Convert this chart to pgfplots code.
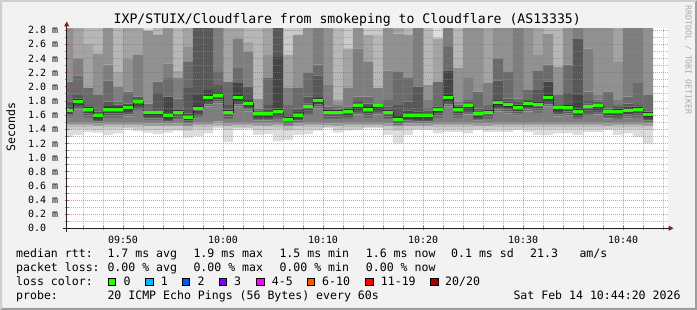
\documentclass[border=0pt]{standalone}
\usepackage{pgfplots}
\pgfplotsset{compat=1.18}
\usepackage{pgfplotstable}
\usepackage{fontspec}
\setmainfont{DejaVu Sans Mono}

\definecolor{bgc}{RGB}{242,242,242}
\definecolor{shadea}{RGB}{207,207,207}
\definecolor{shadeb}{RGB}{158,158,158}
\definecolor{gridc}{RGB}{143,143,143}
\definecolor{mgridc}{RGB}{222,79,79}
\definecolor{arrowc}{RGB}{128,31,31}
\definecolor{axisc}{RGB}{31,31,31}
\definecolor{wmc}{RGB}{170,170,170}
\definecolor{s1}{RGB}{221,221,221}
\definecolor{s2}{RGB}{202,202,202}
\definecolor{s3}{RGB}{183,183,183}
\definecolor{s4}{RGB}{164,164,164}
\definecolor{s5}{RGB}{145,145,145}
\definecolor{s6}{RGB}{126,126,126}
\definecolor{s7}{RGB}{107,107,107}
\definecolor{s8}{RGB}{88,88,88}
\definecolor{s9}{RGB}{69,69,69}
\definecolor{s10}{RGB}{50,50,50}
\definecolor{lc0}{RGB}{38,255,0}
\definecolor{lc1}{RGB}{0,184,255}
\definecolor{lc2}{RGB}{0,89,255}
\definecolor{lc3}{RGB}{126,0,255}
\definecolor{lc4}{RGB}{255,0,255}
\definecolor{lc5}{RGB}{255,85,0}
\definecolor{lc6}{RGB}{255,0,0}
\definecolor{lc7}{RGB}{161,0,0}

% x = minutes after 09:00 (column centre), m = median RTT (ms), p1..p20 = sorted pings (ms)
\pgfplotstableread{
x m p1 p2 p3 p4 p5 p6 p7 p8 p9 p10 p11 p12 p13 p14 p15 p16 p17 p18 p19 p20
44.5 1.670 1.29 1.40 1.43 1.45 1.47 1.50 1.55 1.58 1.61 1.64 1.70 1.72 1.79 2.07 2.07 3 3 3 3 3
45.5 1.797 1.32 1.40 1.43 1.45 1.47 1.50 1.68 1.71 1.74 1.77 1.83 1.83 1.88 2.16 2.40 2.40 3 3 3 3
46.5 1.684 1.36 1.40 1.43 1.45 1.47 1.50 1.56 1.59 1.62 1.65 1.71 1.72 1.74 1.98 1.98 1.98 2.61 3 3 3
47.5 1.590 1.35 1.39 1.42 1.44 1.46 1.48 1.49 1.51 1.53 1.56 1.62 1.63 1.65 1.88 1.88 2.47 2.47 3 3 3
48.5 1.680 1.32 1.40 1.43 1.45 1.47 1.50 1.56 1.59 1.62 1.65 1.71 1.73 1.79 2.09 2.31 3 3 3 3 3
49.5 1.680 1.34 1.40 1.43 1.45 1.47 1.50 1.56 1.59 1.62 1.65 1.71 1.73 1.75 1.79 2.00 2.00 2.21 3 3 3
50.5 1.699 1.39 1.41 1.43 1.45 1.47 1.50 1.58 1.61 1.64 1.67 1.73 1.74 1.76 1.93 1.93 2.40 3 3 3 3
51.5 1.788 1.37 1.40 1.43 1.45 1.47 1.50 1.67 1.70 1.73 1.76 1.82 1.82 1.86 1.86 2.45 2.45 3 3 3 3
52.5 1.628 1.35 1.39 1.42 1.44 1.46 1.48 1.53 1.55 1.57 1.60 1.66 1.66 1.67 1.76 1.76 2.79 2.79 2.79 2.79 3
53.5 1.628 1.33 1.39 1.42 1.44 1.46 1.48 1.53 1.55 1.57 1.60 1.66 1.67 1.91 2.07 2.07 2.73 2.73 3 3 3
54.5 1.590 1.35 1.39 1.42 1.44 1.46 1.48 1.49 1.51 1.53 1.56 1.62 1.86 1.86 2.12 2.33 3 3 3 3 3
55.5 1.637 1.38 1.39 1.42 1.44 1.46 1.48 1.54 1.56 1.58 1.61 1.67 1.67 1.67 1.83 2.12 2.12 2.23 3 3 3
56.5 1.562 1.28 1.37 1.40 1.42 1.44 1.46 1.48 1.50 1.52 1.53 1.59 1.62 1.98 2.35 2.35 2.56 3 3 3 3
57.5 1.694 1.30 1.40 1.43 1.45 1.47 1.50 1.57 1.60 1.63 1.66 1.73 1.88 3 3 3 3 3 3 3 3
58.5 1.844 1.34 1.40 1.43 1.45 1.47 1.50 1.72 1.75 1.78 1.81 1.88 1.95 3 3 3 3 3 3 3 3
59.5 1.882 1.41 1.42 1.44 1.46 1.48 1.51 1.76 1.79 1.82 1.85 1.91 1.91 2.02 2.21 3 3 3 3 3 3
60.5 1.642 1.22 1.39 1.42 1.44 1.46 1.48 1.54 1.56 1.58 1.61 1.67 1.68 1.74 2.07 2.07 2.07 3 3 3 3
61.5 1.844 1.39 1.41 1.43 1.45 1.47 1.50 1.72 1.75 1.78 1.81 1.88 2.05 2.05 2.26 2.68 2.68 3 3 3 3
62.5 1.769 1.40 1.41 1.43 1.45 1.47 1.50 1.65 1.68 1.71 1.74 1.80 1.81 2.00 2.00 2.49 2.49 2.64 3 3 3
63.5 1.618 1.32 1.39 1.42 1.44 1.46 1.48 1.52 1.54 1.56 1.59 1.65 1.65 1.66 1.69 1.69 1.83 1.83 3 3 3
64.5 1.623 1.33 1.39 1.42 1.44 1.46 1.48 1.52 1.54 1.56 1.59 1.65 1.68 1.74 2.12 2.12 2.45 3 3 3 3
65.5 1.656 1.23 1.40 1.43 1.45 1.47 1.50 1.54 1.57 1.60 1.62 1.69 2.42 3 3 3 3 3 3 3 3
66.5 1.543 1.25 1.37 1.40 1.42 1.44 1.46 1.46 1.48 1.50 1.51 1.57 1.58 1.60 1.74 1.98 1.98 2.45 2.45 3 3
67.5 1.595 1.32 1.39 1.42 1.44 1.46 1.48 1.50 1.52 1.54 1.57 1.62 1.64 1.69 1.98 1.98 2.73 2.73 2.73 3 3
68.5 1.717 1.33 1.40 1.43 1.45 1.47 1.50 1.60 1.63 1.66 1.69 1.75 1.76 1.86 2.19 2.19 3 3 3 3 3
69.5 1.811 1.38 1.40 1.43 1.45 1.47 1.50 1.69 1.72 1.75 1.78 1.84 1.84 2.16 2.31 3 3 3 3 3 3
70.5 1.638 1.41 1.42 1.43 1.45 1.46 1.48 1.54 1.56 1.58 1.61 1.67 1.68 1.70 1.72 2.02 3 3 3 3 3
71.5 1.638 1.35 1.39 1.42 1.44 1.46 1.48 1.54 1.56 1.58 1.61 1.67 1.68 1.69 1.71 1.74 1.78 1.83 3 3 3
72.5 1.655 1.38 1.40 1.43 1.45 1.47 1.50 1.54 1.57 1.60 1.62 1.69 1.69 1.70 1.72 1.98 1.98 2.54 2.54 3 3
73.5 1.727 1.39 1.40 1.43 1.45 1.47 1.50 1.61 1.64 1.67 1.70 1.76 1.77 1.80 1.86 2.54 3 3 3 3 3
74.5 1.680 1.41 1.42 1.43 1.45 1.47 1.50 1.56 1.59 1.62 1.65 1.71 1.73 1.76 1.86 2.35 2.35 2.73 2.73 3 3
75.5 1.727 1.41 1.42 1.43 1.45 1.47 1.50 1.61 1.64 1.67 1.70 1.76 1.76 1.76 1.76 1.98 1.98 1.98 2.73 3 3
76.5 1.642 1.32 1.39 1.42 1.44 1.46 1.48 1.54 1.56 1.58 1.61 1.67 1.68 1.72 1.81 2.23 3 3 3 3 3
77.5 1.539 1.20 1.37 1.40 1.42 1.44 1.46 1.46 1.48 1.49 1.51 1.57 1.60 1.74 2.21 2.21 2.75 3 3 3 3
78.5 1.595 1.32 1.39 1.42 1.44 1.46 1.48 1.50 1.52 1.54 1.57 1.62 1.66 1.79 2.12 2.12 2.73 2.73 3 3 3
79.5 1.590 1.39 1.40 1.42 1.44 1.46 1.48 1.49 1.51 1.53 1.56 1.62 1.65 2.00 2.00 3 3 3 3 3 3
80.5 1.590 1.39 1.40 1.42 1.44 1.46 1.48 1.49 1.51 1.53 1.56 1.62 1.63 1.66 1.70 1.81 2.02 2.02 3 3 3
81.5 1.675 1.34 1.40 1.43 1.45 1.47 1.50 1.56 1.59 1.62 1.64 1.70 1.71 1.72 2.07 2.07 2.07 2.68 2.68 2.68 3
82.5 1.844 1.36 1.40 1.43 1.45 1.47 1.50 1.72 1.75 1.78 1.81 1.88 2.23 2.23 2.56 3 3 3 3 3 3
83.5 1.684 1.36 1.40 1.43 1.45 1.47 1.50 1.56 1.59 1.62 1.65 1.71 1.72 1.73 1.75 1.79 2.26 2.26 3 3 3
84.5 1.727 1.34 1.40 1.43 1.45 1.47 1.50 1.61 1.64 1.67 1.70 1.76 1.76 1.78 1.81 2.12 3 3 3 3 3
85.5 1.623 1.39 1.40 1.42 1.44 1.46 1.48 1.52 1.54 1.56 1.59 1.65 1.66 1.69 1.93 1.93 3 3 3 3 3
86.5 1.637 1.36 1.39 1.42 1.44 1.46 1.48 1.54 1.56 1.58 1.61 1.67 1.68 1.70 1.74 2.05 2.05 3 3 3 3
87.5 1.770 1.36 1.40 1.43 1.45 1.47 1.50 1.65 1.68 1.71 1.74 1.80 1.81 2.09 2.40 2.40 3 3 3 3 3
88.5 1.741 1.36 1.40 1.43 1.45 1.47 1.50 1.62 1.65 1.68 1.71 1.77 1.79 1.83 2.21 2.21 3 3 3 3 3
89.5 1.708 1.39 1.40 1.43 1.45 1.47 1.50 1.59 1.62 1.65 1.68 1.74 1.75 1.78 1.83 3 3 3 3 3 3
90.5 1.765 1.36 1.40 1.43 1.45 1.47 1.50 1.65 1.68 1.71 1.73 1.80 1.80 1.81 1.95 1.95 3 3 3 3 3
91.5 1.750 1.32 1.40 1.43 1.45 1.47 1.50 1.63 1.66 1.69 1.72 1.78 1.78 1.95 2.23 2.23 2.45 3 3 3 3
92.5 1.844 1.32 1.40 1.43 1.45 1.47 1.50 1.72 1.75 1.78 1.81 1.88 2.07 2.07 2.31 2.31 2.75 2.75 3 3 3
93.5 1.699 1.34 1.40 1.43 1.45 1.47 1.50 1.58 1.61 1.64 1.67 1.73 1.73 1.73 1.88 1.88 2.28 2.28 3 3 3
94.5 1.708 1.34 1.40 1.43 1.45 1.47 1.50 1.59 1.62 1.65 1.68 1.74 1.74 1.91 2.31 2.31 3 3 3 3 3
95.5 1.656 1.32 1.40 1.43 1.45 1.47 1.50 1.54 1.57 1.60 1.62 1.69 1.88 2.68 2.68 3 3 3 3 3 3
96.5 1.717 1.36 1.40 1.43 1.45 1.47 1.50 1.60 1.63 1.66 1.69 1.75 1.76 1.80 1.93 2.54 3 3 3 3 3
97.5 1.731 1.36 1.40 1.43 1.45 1.47 1.50 1.61 1.64 1.67 1.70 1.76 1.77 1.79 1.82 1.88 3 3 3 3 3
98.5 1.647 1.39 1.40 1.42 1.44 1.46 1.48 1.55 1.57 1.59 1.62 1.68 1.68 1.69 1.93 1.93 3 3 3 3 3
99.5 1.656 1.32 1.40 1.43 1.45 1.47 1.50 1.54 1.57 1.60 1.62 1.69 1.70 1.71 1.74 1.81 2.35 3 3 3 3
100.5 1.670 1.34 1.40 1.43 1.45 1.47 1.50 1.55 1.58 1.61 1.64 1.70 1.72 1.76 1.86 3 3 3 3 3 3
101.5 1.680 1.29 1.40 1.43 1.45 1.47 1.50 1.56 1.59 1.62 1.65 1.71 1.72 1.74 2.05 3 3 3 3 3 3
102.5 1.604 1.20 1.39 1.42 1.44 1.46 1.48 1.50 1.52 1.54 1.57 1.64 1.64 1.65 1.88 1.88 3 3 3 3 3
}\smoke

\pgfplotsset{rrdaxis/.style={at={(66.7bp,81.7bp)}, anchor=south west,
  scale only axis, width=601.3bp, height=200bp,
  xmin=44.37, xmax=104.5, ymin=0, ymax=2.824}}

\newcommand\legfont{\fontsize{11.6}{14}\selectfont}

\begin{document}
\begin{tikzpicture}
\useasboundingbox (0,0) rectangle (697bp,310bp);
\fill[bgc] (0,0) rectangle (697bp,310bp);
\fill[shadea] (0,0) -- (0,310bp) -- (697bp,310bp) -- (695bp,308bp) -- (2bp,308bp) -- (2bp,2bp) -- cycle;
\fill[shadeb] (697bp,310bp) -- (697bp,0) -- (0,0) -- (2bp,2bp) -- (695bp,2bp) -- (695bp,308bp) -- cycle;
\fill[white] (66.7bp,81.7bp) rectangle (668bp,281.7bp);

% smoke: sorted pings stacked as bands
\begin{axis}[rrdaxis, hide axis, ybar stacked, bar width=1.02]
\addplot[draw=none, fill=none] table[x=x, y=p1]{\smoke};
\addplot[draw=none, fill=s1] table[x=x, y expr=\thisrow{p2}-\thisrow{p1}]{\smoke};
\addplot[draw=none, fill=s2] table[x=x, y expr=\thisrow{p3}-\thisrow{p2}]{\smoke};
\addplot[draw=none, fill=s3] table[x=x, y expr=\thisrow{p4}-\thisrow{p3}]{\smoke};
\addplot[draw=none, fill=s4] table[x=x, y expr=\thisrow{p5}-\thisrow{p4}]{\smoke};
\addplot[draw=none, fill=s5] table[x=x, y expr=\thisrow{p6}-\thisrow{p5}]{\smoke};
\addplot[draw=none, fill=s6] table[x=x, y expr=\thisrow{p7}-\thisrow{p6}]{\smoke};
\addplot[draw=none, fill=s7] table[x=x, y expr=\thisrow{p8}-\thisrow{p7}]{\smoke};
\addplot[draw=none, fill=s8] table[x=x, y expr=\thisrow{p9}-\thisrow{p8}]{\smoke};
\addplot[draw=none, fill=s9] table[x=x, y expr=\thisrow{p10}-\thisrow{p9}]{\smoke};
\addplot[draw=none, fill=s10] table[x=x, y expr=\thisrow{p11}-\thisrow{p10}]{\smoke};
\addplot[draw=none, fill=s9] table[x=x, y expr=\thisrow{p12}-\thisrow{p11}]{\smoke};
\addplot[draw=none, fill=s8] table[x=x, y expr=\thisrow{p13}-\thisrow{p12}]{\smoke};
\addplot[draw=none, fill=s7] table[x=x, y expr=\thisrow{p14}-\thisrow{p13}]{\smoke};
\addplot[draw=none, fill=s6] table[x=x, y expr=\thisrow{p15}-\thisrow{p14}]{\smoke};
\addplot[draw=none, fill=s5] table[x=x, y expr=\thisrow{p16}-\thisrow{p15}]{\smoke};
\addplot[draw=none, fill=s4] table[x=x, y expr=\thisrow{p17}-\thisrow{p16}]{\smoke};
\addplot[draw=none, fill=s3] table[x=x, y expr=\thisrow{p18}-\thisrow{p17}]{\smoke};
\addplot[draw=none, fill=s2] table[x=x, y expr=\thisrow{p19}-\thisrow{p18}]{\smoke};
\addplot[draw=none, fill=s1] table[x=x, y expr=\thisrow{p20}-\thisrow{p19}]{\smoke};
\end{axis}

% grid, ticks, median
\begin{axis}[rrdaxis,
  axis line style={draw=none},
  axis on top, clip marker paths=true,
  xtick={50,60,70,80,90,100},
  xticklabels={09:50,10:00,10:10,10:20,10:30,10:40},
  minor xtick={46,48,52,54,56,58,62,64,66,68,72,74,76,78,82,84,86,88,92,94,96,98,102,104},
  ytick={0,0.2,0.4,0.6,0.8,1.0,1.2,1.4,1.6,1.8,2.0,2.2,2.4,2.6,2.8},
  yticklabels={0.0,0.2 m,0.4 m,0.6 m,0.8 m,1.0 m,1.2 m,1.4 m,1.6 m,1.8 m,2.0 m,2.2 m,2.4 m,2.6 m,2.8 m},
  minor ytick={0.1,0.3,0.5,0.7,0.9,1.1,1.3,1.5,1.7,1.9,2.1,2.3,2.5,2.7},
  grid=both,
  major grid style={draw=mgridc, draw opacity=0.6, line width=0.6bp, dash pattern=on 1bp off 1bp},
  minor grid style={draw=gridc, draw opacity=0.6, line width=0.6bp, dash pattern=on 1bp off 1bp},
  xtick pos=left, ytick pos=left, tick align=center,
  major tick length=4bp, minor tick length=4bp,
  major tick style={draw=mgridc, line width=0.6bp},
  minor tick style={draw=gridc, line width=0.6bp},
  tick label style={font=\fontsize{10}{12}\selectfont, inner sep=0pt},
  xticklabel style={anchor=center, yshift=-9.7bp},
  yticklabel style={anchor=west, xshift=-36.7bp},
]
\addplot[const plot mark mid, draw={rgb,255:red,32;green,32;blue,32}, line width=0.8bp, mark=none] table[x=x, y=m]{\smoke};
\addplot[lc0, only marks, mark=-, mark size=5bp, mark options={line width=3bp}] table[x=x, y=m]{\smoke};
\end{axis}

% axes with arrows
\draw[axisc, line width=1bp] (62.7bp,81.7bp) -- (669bp,81.7bp);
\fill[arrowc] (673.5bp,81.7bp) -- (668.5bp,84.4bp) -- (668.5bp,79bp) -- cycle;
\draw[axisc, line width=1bp] (66.7bp,77.7bp) -- (66.7bp,284bp);
\fill[arrowc] (66.7bp,288.5bp) -- (64bp,283.5bp) -- (69.4bp,283.5bp) -- cycle;

% title, axis label, watermark
\node[anchor=base, inner sep=0pt, font=\fontsize{13.2}{16}\selectfont] at (347.3bp,286bp)
  {IXP/STUIX/Cloudflare from smokeping to Cloudflare (AS13335)};
\node[anchor=base, inner sep=0pt, rotate=90, font=\legfont] at (15bp,183bp) {Seconds};
\node[anchor=base, inner sep=0pt, rotate=-90, text=wmc, font=\fontsize{8.3}{10}\selectfont] at (685.5bp,250bp) {RRDTOOL / TOBI OETIKER};

% legend
\begin{scope}[every node/.style={anchor=base west, inner sep=0pt, font=\legfont}]
\node at (16bp,52.5bp) {median rtt:};
\node at (107.3bp,52.5bp) {1.7 ms avg};
\node at (193.3bp,52.5bp) {1.9 ms max};
\node at (279.3bp,52.5bp) {1.5 ms min};
\node at (365.7bp,52.5bp) {1.6 ms now};
\node at (451bp,52.5bp) {0.1 ms sd};
\node at (530bp,52.5bp) {21.3};
\node at (579.3bp,52.5bp) {am/s};

\node at (16bp,38.5bp) {packet loss:};
\node at (107.3bp,38.5bp) {0.00 \% avg};
\node at (193.3bp,38.5bp) {0.00 \% max};
\node at (279.3bp,38.5bp) {0.00 \% min};
\node at (365.7bp,38.5bp) {0.00 \% now};

\node at (16bp,24.5bp) {loss color:};
\filldraw[fill=lc0, draw=black, line width=0.6bp] (108.3bp,24.7bp) rectangle (115.7bp,32bp);
\node at (123.3bp,24.5bp) {0};
\filldraw[fill=lc1, draw=black, line width=0.6bp] (145.7bp,24.7bp) rectangle (153.1bp,32bp);
\node at (160.7bp,24.5bp) {1};
\filldraw[fill=lc2, draw=black, line width=0.6bp] (182.3bp,24.7bp) rectangle (189.7bp,32bp);
\node at (197.3bp,24.5bp) {2};
\filldraw[fill=lc3, draw=black, line width=0.6bp] (219bp,24.7bp) rectangle (226.4bp,32bp);
\node at (234bp,24.5bp) {3};
\filldraw[fill=lc4, draw=black, line width=0.6bp] (256.7bp,24.7bp) rectangle (264.1bp,32bp);
\node at (271.7bp,24.5bp) {4-5};
\filldraw[fill=lc5, draw=black, line width=0.6bp] (307.3bp,24.7bp) rectangle (314.7bp,32bp);
\node at (322bp,24.5bp) {6-10};
\filldraw[fill=lc6, draw=black, line width=0.6bp] (365.7bp,24.7bp) rectangle (373.1bp,32bp);
\node at (380.7bp,24.5bp) {11-19};
\filldraw[fill=lc7, draw=black, line width=0.6bp] (430.7bp,24.7bp) rectangle (438.1bp,32bp);
\node at (445bp,24.5bp) {20/20};

\node at (16bp,10.5bp) {probe:};
\node at (107.3bp,10.5bp) {20 ICMP Echo Pings (56 Bytes) every 60s};
\node at (513.3bp,10.5bp) {Sat Feb 14 10:44:20 2026};
\end{scope}
\end{tikzpicture}
\end{document}
